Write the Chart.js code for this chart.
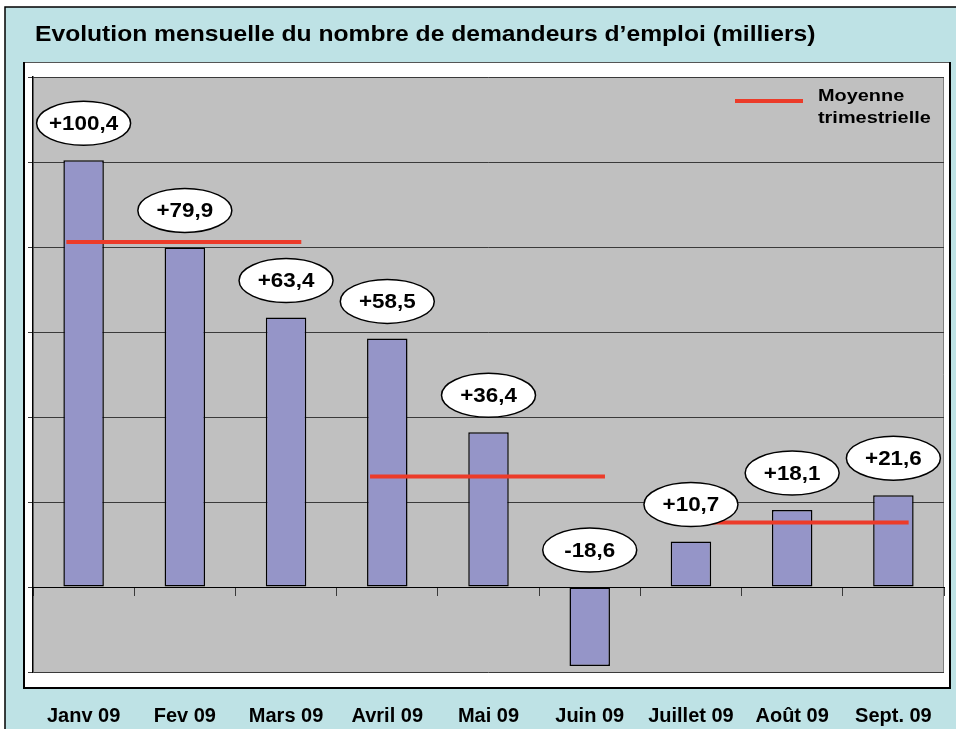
<!DOCTYPE html>
<html>
<head>
<meta charset="utf-8">
<title>Evolution mensuelle du nombre de demandeurs d'emploi</title>
<script src="https://cdn.jsdelivr.net/npm/chart.js@4/dist/chart.umd.min.js"></script>
<style>
  html, body { margin: 0; padding: 0; background: #fff; }
  #wrap { width: 956px; height: 729px; }
</style>
</head>
<body>
<div id="wrap"><canvas id="chart" width="956" height="729"></canvas></div>
<script>
// Data
const months = ['Janv 09', 'Fev 09', 'Mars 09', 'Avril 09', 'Mai 09', 'Juin 09', 'Juillet 09', 'Août 09', 'Sept. 09'];
const changes = [100.4, 79.9, 63.4, 58.5, 36.4, -18.6, 10.7, 18.1, 21.6];
const valueLabels = ['+100,4', '+79,9', '+63,4', '+58,5', '+36,4', '-18,6', '+10,7', '+18,1', '+21,6'];
// quarterly averages (red lines), one per block of 3 months
const quarterAverages = [81.2, 26.0, 15.2];
const yTicks = [-20, 0, 20, 40, 60, 80, 100, 120];

const titleText = 'Evolution mensuelle du nombre de demandeurs d\u2019emploi (milliers)';
const legendLines = ['Moyenne', 'trimestrielle'];

// Colours
const panelColor = '#bee2e5';
const plotColor = '#c0c0c0';
const barColor = '#9595c8';
const meanColor = '#ec3b29';
const gridColor = '#3a3a3a';

// Draw text stretched horizontally like the source image
function wideText(ctx, text, x, y, stretch, align) {
    ctx.save();
    ctx.translate(x, y);
    ctx.scale(stretch, 1);
    ctx.textAlign = align || 'left';
    ctx.fillText(text, 0, 0);
    ctx.restore();
}

// Background: cyan panel, white box, grey plot area
const backdrop = {
    id: 'backdrop',
    beforeDraw(chart) {
        const { ctx, chartArea: a, width, height } = chart;
        ctx.save();
        ctx.fillStyle = '#fff';
        ctx.fillRect(0, 0, width, height);
        ctx.fillStyle = panelColor;
        ctx.fillRect(5, 7, width - 5, height - 7);
        ctx.strokeStyle = '#000';
        ctx.lineWidth = 1.5;
        ctx.beginPath();
        ctx.moveTo(5, height);
        ctx.lineTo(5, 7);
        ctx.lineTo(width, 7);
        ctx.stroke();

        // white box around plot
        const bx = a.left - 9, by = a.top - 15, bw = a.width + 15, bh = a.height + 31;
        ctx.fillStyle = '#fff';
        ctx.fillRect(bx, by, bw, bh);
        ctx.strokeStyle = '#555';
        ctx.lineWidth = 1;
        ctx.strokeRect(bx + 0.5, by + 0.5, bw, bh);
        ctx.strokeStyle = '#000';
        ctx.lineWidth = 2;
        ctx.beginPath();
        ctx.moveTo(bx, by);
        ctx.lineTo(bx, by + bh);
        ctx.lineTo(bx + bw, by + bh);
        ctx.lineTo(bx + bw, by);
        ctx.stroke();

        // plot area
        ctx.fillStyle = plotColor;
        ctx.fillRect(a.left, a.top, a.width, a.height);
        ctx.strokeStyle = '#808080';
        ctx.lineWidth = 1;
        ctx.beginPath();
        ctx.moveTo(a.right - 0.5, a.top);
        ctx.lineTo(a.right - 0.5, a.bottom);
        ctx.stroke();

        // title
        ctx.fillStyle = '#000';
        ctx.font = 'bold 22px "Liberation Sans", Arial, sans-serif';
        ctx.textBaseline = 'alphabetic';
        wideText(ctx, titleText, 35, 41, 1.12);
        ctx.restore();
    }
};

// Quarterly mean lines, value ellipses and legend
const overlays = {
    id: 'overlays',
    afterDatasetsDraw(chart) {
        const { ctx } = chart;
        const x = chart.scales.x;
        const y = chart.scales.y;
        const meta = chart.getDatasetMeta(0);
        ctx.save();

        // red mean lines spanning each quarter's bars
        ctx.strokeStyle = meanColor;
        ctx.lineWidth = 4;
        quarterAverages.forEach((avg, q) => {
            const first = meta.data[q * 3];
            const last = meta.data[q * 3 + 2];
            const py = y.getPixelForValue(avg);
            ctx.beginPath();
            ctx.moveTo(first.x - first.width / 2 + 3, py);
            ctx.lineTo(last.x + last.width / 2 - 5, py);
            ctx.stroke();
        });

        // ellipses with values
        ctx.font = 'bold 20px "Liberation Sans", Arial, sans-serif';
        ctx.textBaseline = 'middle';
        changes.forEach((v, i) => {
            const cx = x.getPixelForValue(i);
            const cy = y.getPixelForValue(Math.max(v, 0)) - 37;
            ctx.beginPath();
            ctx.ellipse(cx, cy, 47, 22, 0, 0, Math.PI * 2);
            ctx.fillStyle = '#fff';
            ctx.fill();
            ctx.strokeStyle = '#000';
            ctx.lineWidth = 1.5;
            ctx.stroke();
            ctx.fillStyle = '#000';
            wideText(ctx, valueLabels[i], cx, cy + 1, 1.12, 'center');
        });

        // legend
        const a = chart.chartArea;
        const ly = a.top + 24;
        ctx.strokeStyle = meanColor;
        ctx.lineWidth = 4;
        ctx.beginPath();
        ctx.moveTo(a.right - 209, ly);
        ctx.lineTo(a.right - 141, ly);
        ctx.stroke();
        ctx.fillStyle = '#000';
        ctx.font = 'bold 17px "Liberation Sans", Arial, sans-serif';
        ctx.textBaseline = 'alphabetic';
        wideText(ctx, legendLines[0], a.right - 126, ly, 1.17);
        wideText(ctx, legendLines[1], a.right - 126, ly + 22, 1.17);
        ctx.restore();
    }
};

const chart = new Chart(document.getElementById('chart'), {
    type: 'bar',
    data: {
        labels: months,
        datasets: [{
            data: changes,
            backgroundColor: barColor,
            borderColor: '#000',
            borderWidth: 1.5,
            borderSkipped: false,
            barPercentage: 0.4,
            categoryPercentage: 1.0
        }]
    },
    options: {
        responsive: false,
        animation: false,
        layout: { padding: { left: 28, top: 77, right: 12, bottom: 0 } },
        plugins: {
            legend: { display: false },
            tooltip: { enabled: false },
            title: { display: false }
        },
        scales: {
            x: {
                position: 'bottom',
                offset: true,
                // invisible tick marks push the month labels down below the white box
                grid: { display: true, drawOnChartArea: false, drawTicks: true, tickLength: 32, color: 'rgba(0,0,0,0)' },
                border: { display: false },
                ticks: {
                    color: '#000',
                    padding: 0,
                    maxRotation: 0,
                    autoSkip: false,
                    font: { family: '"Liberation Sans", Arial, sans-serif', size: 20, weight: 'bold' }
                },
                afterFit(scale) { scale.height = 57; }
            },
            x0: {
                type: 'category',
                position: { y: 0 },
                offset: true,
                grid: { offset: true, drawOnChartArea: false, drawTicks: true, tickLength: 8, color: gridColor },
                border: { display: true, color: '#000', width: 1 },
                ticks: { display: false }
            },
            y: {
                min: yTicks[0],
                max: yTicks[yTicks.length - 1],
                afterBuildTicks(scale) { scale.ticks = yTicks.map(v => ({ value: v })); },
                grid: { color: gridColor, lineWidth: 1, drawTicks: true, tickLength: 5 },
                border: { display: true, color: '#000', width: 1.5 },
                ticks: { display: false },
                afterFit(scale) { scale.width = 5; }
            }
        }
    },
    plugins: [backdrop, overlays]
});
</script>
</body>
</html>
